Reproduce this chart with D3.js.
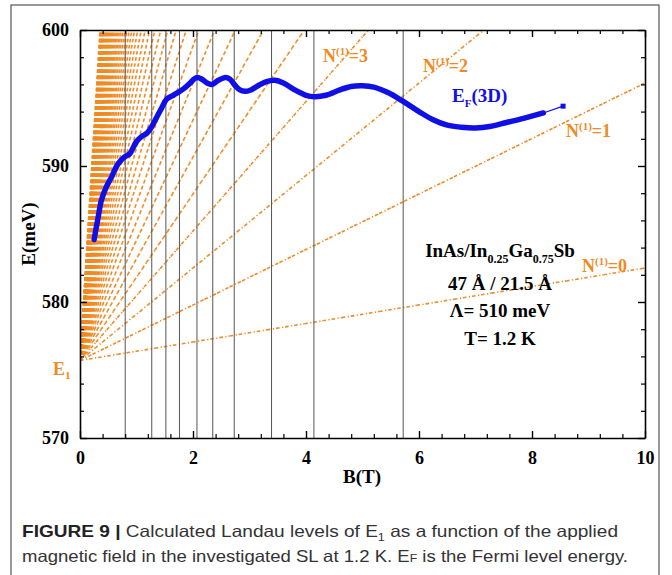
<!DOCTYPE html>
<html>
<head>
<meta charset="utf-8">
<script src="https://cdn.jsdelivr.net/npm/d3@7"></script>
<style>
  body { margin: 0; background: #fff; }
  svg { display: block; }
  .axis path, .axis line { stroke: #000; }
  .axis text { font-family: "Liberation Serif", serif; font-weight: bold; font-size: 18px; fill: #000; }
  .lbl { font-family: "Liberation Serif", serif; font-weight: bold; }
</style>
</head>
<body>
<script>
// Fermi level E_F(3D)
const efB = [0.25, 0.32, 0.38, 0.47, 0.56, 0.65, 0.72, 0.80, 0.88, 1.0, 1.1, 1.18, 1.27, 1.36, 1.45, 1.53, 1.65, 1.77, 1.87, 1.95, 2.02, 2.08, 2.15, 2.25, 2.33, 2.45, 2.57, 2.65, 2.75, 2.83, 2.92, 3.0, 3.15, 3.3, 3.45, 3.6, 3.8, 4.0, 4.15, 4.35, 4.6, 4.8, 5.0, 5.2, 5.45, 5.7, 6.0, 6.25, 6.5, 6.75, 7.0, 7.25, 7.55, 7.85, 8.2];
const efE = [584.6, 586.2, 587.5, 588.5, 589.2, 590.0, 590.4, 590.7, 590.9, 591.8, 592.2, 592.4, 592.9, 593.6, 594.3, 594.9, 595.2, 595.5, 595.8, 596.1, 596.4, 596.5, 596.4, 596.1, 596.0, 596.3, 596.5, 596.4, 595.9, 595.6, 595.5, 595.55, 595.9, 596.2, 596.3, 596.1, 595.6, 595.2, 595.1, 595.2, 595.6, 595.85, 595.9, 595.8, 595.4, 594.8, 594.0, 593.4, 593.0, 592.85, 592.8, 592.9, 593.2, 593.5, 593.9];
const efTail = [[8.2, 593.9], [8.55, 594.4]];

// Landau levels E = E1 + hw (N + 1/2) B
const E1 = 575.7;
const hw = 1.36;          // meV per tesla
const levelN = d3.range(0, 51);
const eStep = 0.45;       // energy grid the levels were plotted on

// crossing fields (thin vertical lines)
const crossB = [0.80, 1.27, 1.52, 1.76, 2.07, 2.35, 2.73, 3.39, 4.14, 5.72];

const xTicks = [0, 2, 4, 6, 8, 10];
const yTicks = [570, 580, 590, 600];

const W = 672, H = 575;
const m = { left: 80, right: 645, top: 30, bottom: 438 };
const orange = '#f08a24', blue = '#1010e6';

const svg = d3.select('body').append('svg').attr('width', W).attr('height', H);

// figure frame
svg.append('rect').attr('x', 11).attr('y', 5).attr('width', 648).attr('height', 600)
  .attr('fill', 'none').attr('stroke', '#555').attr('stroke-width', 1.2);

const x = d3.scaleLinear().domain([0, 10]).range([m.left, m.right]);
const y = d3.scaleLinear().domain([570, 600]).range([m.bottom, m.top]);

svg.append('clipPath').attr('id', 'plot').append('rect')
  .attr('x', m.left).attr('y', m.top).attr('width', m.right - m.left).attr('height', m.bottom - m.top);

const g = svg.append('g').attr('clip-path', 'url(#plot)');

// Landau levels, one segment per energy step (dash pattern restarts on each)
const segs = [];
levelN.forEach(n => {
  const k = hw * (n + 0.5);
  const eMax = Math.min(600, E1 + k * 10);
  for (let e = E1; e < eMax - 1e-9; e += eStep) {
    const e2 = Math.min(eMax, e + eStep);
    segs.push({ b1: (e - E1) / k, e1: e, b2: (e2 - E1) / k, e2: e2 });
  }
});
g.selectAll('line.level').data(segs).enter().append('line')
  .attr('class', 'level')
  .attr('x1', d => x(d.b1)).attr('y1', d => y(d.e1))
  .attr('x2', d => x(d.b2)).attr('y2', d => y(d.e2))
  .attr('stroke', orange).attr('stroke-width', 1.6)
  .attr('stroke-dasharray', '3.5,2.5,1.2,2');

// vertical crossing lines
g.selectAll('line.cross').data(crossB).enter().append('line')
  .attr('class', 'cross')
  .attr('x1', d => x(d)).attr('x2', d => x(d))
  .attr('y1', y(570)).attr('y2', y(600))
  .attr('stroke', '#555').attr('stroke-width', 1);

// E_F curve
const ef = efB.map((b, i) => [b, efE[i]]);
const line = d3.line().x(d => x(d[0])).y(d => y(d[1])).curve(d3.curveCatmullRom);
g.append('path').datum(ef).attr('d', line)
  .attr('fill', 'none').attr('stroke', blue).attr('stroke-width', 5.5)
  .attr('stroke-linecap', 'round').attr('stroke-linejoin', 'round');
g.append('path').datum(efTail).attr('d', d3.line().x(d => x(d[0])).y(d => y(d[1])))
  .attr('fill', 'none').attr('stroke', blue).attr('stroke-width', 1.2);
g.append('rect').attr('x', x(8.55) - 2.5).attr('y', y(594.4) - 2.5)
  .attr('width', 5).attr('height', 5).attr('fill', blue);

// axes
const minorX = d3.range(0, 10.001, 0.4).filter(v => Math.abs(v / 2 - Math.round(v / 2)) > 1e-6);
const minorY = d3.range(570, 600.001, 2).filter(v => v % 10 !== 0);

function addAxis(axisFn, scale, ticks, minor, tx, ty, labels) {
  const a = svg.append('g').attr('class', 'axis').attr('transform', `translate(${tx},${ty})`);
  a.call(axisFn(scale).tickValues(ticks).tickSizeInner(-7).tickSizeOuter(0)
    .tickPadding(10).tickFormat(labels ? d3.format('d') : ''));
  a.call(s => s.select('.domain').attr('stroke-width', 1.6));
  a.selectAll('.tick line').attr('stroke-width', 1.4);
  const b = svg.append('g').attr('class', 'axis').attr('transform', `translate(${tx},${ty})`);
  b.call(axisFn(scale).tickValues(minor).tickSizeInner(-4).tickSizeOuter(0).tickFormat(''));
  b.select('.domain').remove();
  b.selectAll('.tick line').attr('stroke-width', 1.2);
  return a;
}
const bx = addAxis(d3.axisBottom, x, xTicks, minorX, 0, m.bottom, true);
addAxis(d3.axisTop, x, xTicks, minorX, 0, m.top, false);
const ly = addAxis(d3.axisLeft, y, yTicks, minorY, m.left, 0, true);
addAxis(d3.axisRight, y, yTicks, minorY, m.right, 0, false);
bx.selectAll('text').attr('dy', '0.9em');
ly.selectAll('text').attr('dx', '-1px');

// axis titles
svg.append('text').attr('class', 'lbl').attr('x', 362).attr('y', 483)
  .attr('text-anchor', 'middle').attr('font-size', 19).text('B(T)');
svg.append('text').attr('class', 'lbl')
  .attr('transform', 'translate(35,234) rotate(-90)')
  .attr('text-anchor', 'middle').attr('font-size', 19).text('E(meV)');

// level labels
const nLabels = [['3', 323, 62], ['2', 423, 72], ['1', 566, 137], ['0', 582, 272]];
nLabels.forEach(([n, lx, lyy]) => {
  const t = svg.append('text').attr('class', 'lbl').attr('x', lx).attr('y', lyy)
    .attr('font-size', 18).attr('fill', orange);
  t.append('tspan').text('N');
  t.append('tspan').attr('dy', -7).attr('font-size', 11).text('(1)');
  t.append('tspan').attr('dy', 7).text('=' + n);
});

const e1 = svg.append('text').attr('class', 'lbl').attr('x', 53).attr('y', 375)
  .attr('font-size', 18).attr('fill', orange);
e1.append('tspan').text('E');
e1.append('tspan').attr('dy', 4).attr('font-size', 11).text('1');

const efl = svg.append('text').attr('class', 'lbl').attr('x', 452).attr('y', 102)
  .attr('font-size', 19).attr('fill', blue);
efl.append('tspan').text('E');
efl.append('tspan').attr('dy', 5).attr('font-size', 11).text('F');
efl.append('tspan').attr('dy', -5).text('(3D)');

// sample annotation
const a1 = svg.append('text').attr('class', 'lbl').attr('x', 500).attr('y', 257)
  .attr('text-anchor', 'middle').attr('font-size', 19);
a1.append('tspan').text('InAs/In');
a1.append('tspan').attr('dy', 6).attr('font-size', 12).text('0.25');
a1.append('tspan').attr('dy', -6).text('Ga');
a1.append('tspan').attr('dy', 6).attr('font-size', 12).text('0.75');
a1.append('tspan').attr('dy', -6).text('Sb');
[['47 Å / 21.5 Å', 290], ['Λ= 510 meV', 317], ['T= 1.2 K', 345]].forEach(([s, yy]) => {
  svg.append('text').attr('class', 'lbl').attr('x', 500).attr('y', yy)
    .attr('text-anchor', 'middle').attr('font-size', 19).text(s);
});

// caption
const cap = { family: '"Liberation Sans", sans-serif', size: 16.5, fill: '#333' };
const c1 = svg.append('text').attr('x', 22).attr('y', 537)
  .attr('font-family', cap.family).attr('font-size', cap.size).attr('fill', cap.fill)
  .attr('textLength', 596).attr('lengthAdjust', 'spacingAndGlyphs');
c1.append('tspan').attr('font-weight', 'bold').attr('fill', '#222').text('FIGURE 9 | ');
c1.append('tspan').text('Calculated Landau levels of E');
c1.append('tspan').attr('dy', 4).attr('font-size', 11).text('1');
c1.append('tspan').attr('dy', -4).text(' as a function of the applied');
const c2 = svg.append('text').attr('x', 22).attr('y', 562)
  .attr('font-family', cap.family).attr('font-size', cap.size).attr('fill', cap.fill)
  .attr('textLength', 606).attr('lengthAdjust', 'spacingAndGlyphs');
c2.append('tspan').text('magnetic field in the investigated SL at 1.2 K. E');
c2.append('tspan').attr('font-size', 11).text('F');
c2.append('tspan').text(' is the Fermi level energy.');
</script>
</body>
</html>
